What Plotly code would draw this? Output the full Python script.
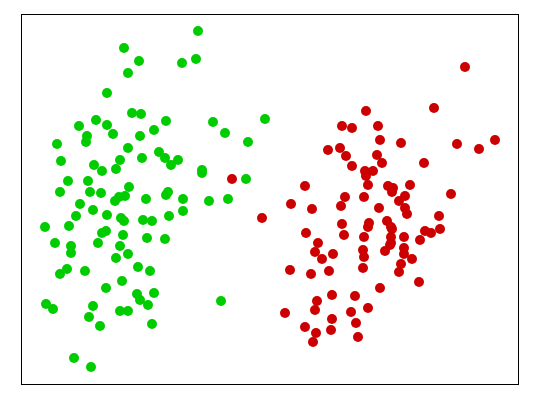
import plotly.graph_objs as go

# values (plot units, y grows downwards)
green_x = [124, 139, 128, 107, 132, 141, 96, 79, 107, 154, 87, 113, 140, 57, 86, 128, 159, 142, 61, 120,
           94, 102, 116, 68, 88, 60, 90, 101, 129, 119, 125, 115, 146, 80, 93, 76, 107, 121, 124, 143,
           152, 45, 69, 102, 106, 123, 98, 147, 55, 71, 71, 120, 116, 128, 67, 60, 85, 138, 150, 122,
           106, 137, 140, 154, 148, 46, 53, 93, 89, 120, 128, 100, 152, 74, 91, 198, 182, 196, 166, 213,
           225, 265, 248, 165, 178, 171, 202, 202, 246, 168, 166, 183, 209, 228, 183, 169, 165, 221]
green_y = [48, 61, 73, 93, 113, 114, 120, 126, 125, 130, 136, 134, 136, 144, 142, 148, 152, 158, 161, 160,
           165, 171, 169, 181, 181, 192, 192, 193, 187, 197, 196, 201, 199, 204, 210, 216, 215, 218, 221, 220,
           221, 227, 226, 233, 231, 235, 243, 238, 243, 246, 253, 246, 258, 254, 269, 274, 271, 267, 271, 281,
           288, 294, 300, 293, 305, 304, 309, 306, 317, 311, 311, 326, 324, 358, 367, 31, 63, 59, 121, 122,
           133, 119, 142, 158, 160, 165, 170, 173, 179, 192, 195, 199, 201, 199, 211, 216, 239, 301]

red_x = [232, 262, 366, 342, 352, 378, 380, 328, 340, 346, 377, 382, 352, 365, 373, 366, 368, 388, 392, 305,
         345, 364, 291, 312, 341, 379, 342, 369, 368, 387, 391, 306, 344, 364, 391, 318, 315, 322, 333, 363,
         364, 385, 390, 290, 311, 329, 363, 380, 332, 355, 317, 315, 368, 285, 351, 332, 356, 305, 316, 331,
         358, 313, 465, 434, 401, 457, 479, 495, 424, 393, 410, 405, 451, 399, 405, 407, 439, 392, 391, 404,
         425, 431, 440, 420, 404, 404, 412, 401, 399, 419]
red_y = [179, 218, 111, 126, 128, 126, 140, 150, 148, 156, 155, 163, 166, 171, 171, 176, 185, 186, 192, 186,
         197, 197, 204, 209, 206, 208, 224, 223, 227, 221, 227, 233, 235, 237, 237, 243, 252, 259, 254, 250,
         257, 251, 245, 270, 274, 271, 268, 288, 295, 296, 301, 310, 308, 313, 312, 319, 323, 327, 333, 330,
         337, 342, 67, 108, 143, 144, 149, 140, 163, 188, 185, 196, 194, 201, 208, 214, 216, 229, 243, 237,
         231, 233, 229, 240, 248, 254, 259, 264, 272, 282]

fig = go.Figure()
fig.add_trace(go.Scatter(
    x=green_x, y=green_y, mode='markers',
    marker=dict(color='#00cc00', size=10, line=dict(width=0)),
    showlegend=False
))
fig.add_trace(go.Scatter(
    x=red_x, y=red_y, mode='markers',
    marker=dict(color='#cc0000', size=10, line=dict(width=0)),
    showlegend=False
))

axis_style = dict(showgrid=False, zeroline=False, showticklabels=False, ticks='',
                  showline=True, mirror=True, linecolor='black', linewidth=1)
fig.update_xaxes(range=[22, 518], **axis_style)
fig.update_yaxes(range=[384, 15], **axis_style)

# page body adds an 8px offset, so margins are shifted to compensate
fig.update_layout(
    width=540, height=400,
    margin=dict(l=14, r=30, t=7, b=24),
    plot_bgcolor='white',
    paper_bgcolor='white',
)

fig.write_html("out.html")
